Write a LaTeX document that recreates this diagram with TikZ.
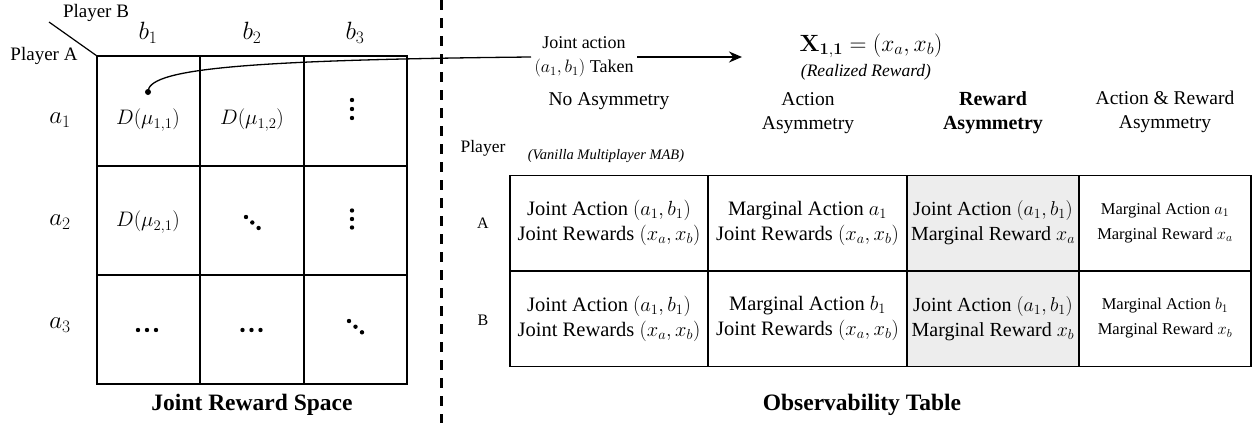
\documentclass[tikz,border=0pt]{standalone}
\usepackage{fix-cm}
\usepackage{amsmath}
\usepackage[no-math]{fontspec}
\setmainfont{Liberation Serif}
\usetikzlibrary{positioning,chains,arrows.meta}
\definecolor{shade}{RGB}{237,237,237}
\tikzstyle{gridline} = [line width=1.5pt]
\tikzstyle{obs}      = [rectangle, draw, line width=1.5pt, outer sep=0pt, inner sep=0pt,
                        minimum height=95.5pt, align=center, font=\fontsize{20.5}{25}\selectfont]
\tikzstyle{arrow}    = [line width=1.5pt,-{Stealth[length=13pt,width=11pt]}]

\begin{document}
\begin{tikzpicture}[
			x=1pt,y=-1pt,
			lab/.style={font=\fontsize{25}{28}\selectfont},
			entry/.style={font=\fontsize{21}{24}\selectfont},
			player/.style={font=\fontsize{19}{22}\selectfont},
			head/.style={align=center,font=\fontsize{19.5}{24}\selectfont},
			small/.style={obs,font=\fontsize{16.5}{25}\selectfont},
			title/.style={font=\fontsize{23.5}{26}\selectfont\bfseries},
			dot/.style={circle,fill,inner sep=0pt,minimum size=6pt}
		]
		\useasboundingbox (0,0) rectangle (1257,423);

		% joint reward space
		\draw[gridline] (97,56) rectangle (407,384);
		\draw[gridline] (200,56) -- (200,384) (304,56) -- (304,384);
		\draw[gridline] (97,166) -- (407,166) (97,275) -- (407,275);
		\draw[line width=1.2pt] (49,22) -- (97,56);
		\node[player] (PB) at (96,13) {Player B};
		\node[player] (PA) at (44,56) {Player A};

		\node[lab] (B1) at (148,33) {$b_1$};
		\node[lab] (B2) at (252,33) {$b_2$};
		\node[lab] (B3) at (355,33) {$b_3$};
		\node[lab] (A1) at (60,120) {$a_1$};
		\node[lab] (A2) at (60,222) {$a_2$};
		\node[lab] (A3) at (60,325) {$a_3$};

		\node[entry] (M11) at (148,120) {$D(\mu_{1,1})$};
		\node[entry] (M12) at (252,120) {$D(\mu_{1,2})$};
		\node[entry] (M21) at (148,222) {$D(\mu_{2,1})$};
		% dots in the remaining cells
		\foreach \y in {100,109,118} \fill (352,\y) circle (2.2);
		\foreach \y in {210.5,219,227.5} \fill (352,\y) circle (2.2);
		\foreach \x/\y in {246/217,252.3/222.5,258.6/228} \fill (\x,\y) circle (2.2);
		\foreach \x/\y in {349/321,355.5/326.7,362/332.3} \fill (\x,\y) circle (2.2);
		\foreach \x in {138,147,156} \fill (\x,330) circle (2.2);
		\foreach \x in {242.5,251.5,260.5} \fill (\x,330) circle (2.2);
		\node[title] (JR) at (252,405) {Joint Reward Space};

		% action taken
		\node[dot] (S) at (148,92) {};
		\node[align=center,font=\fontsize{18}{24}\selectfont] (L) at (584,57) {Joint action\\$(a_1,b_1)$ Taken};
		\draw[line width=1.3pt] (S.center) .. controls (148,70) and (230,60) .. (L.west);
		\coordinate (T) at (742,57);
		\draw[arrow] (L.east) -- (T);
		\node[font=\fontsize{23.5}{26}\selectfont] (X) at (871,46) {$\mathbf{X_{1,1}} = (x_a, x_b)$};
		\node[font=\fontsize{17.5}{20}\selectfont\itshape] (R) at (866,72) {(Realized Reward)};

		\draw[line width=3pt,dash pattern=on 10pt off 8pt] (441,0) -- (441,423);

		% observability table
		\node[head] (H1) at (609,101) {No Asymmetry};
		\node[font=\fontsize{14.5}{17}\selectfont\itshape] (V) at (606,156) {(Vanilla Multiplayer MAB)};
		\node[head] (H2) at (808,113) {Action\\Asymmetry};
		\node[head,font=\fontsize{20}{24}\selectfont\bfseries] (H3) at (993,113) {Reward\\Asymmetry};
		\node[head] (H4) at (1165,112) {Action \& Reward\\Asymmetry};
		\node[player,font=\fontsize{17.5}{20}\selectfont] (P) at (483,148) {Player};
		\node[font=\fontsize{16}{18}\selectfont] (RA) at (483,223) {A};
		\node[font=\fontsize{16}{18}\selectfont] (RB) at (483,320) {B};

		\begin{scope}[start chain=ra going right,node distance=0pt]
			\node[obs,on chain=ra,minimum width=198pt] (CA1) at (609,223) {Joint Action $(a_1,b_1)$\\Joint Rewards $(x_a,x_b)$};
			\node[obs,on chain=ra,minimum width=199pt] (CA2) {Marginal Action $a_1$\\Joint Rewards $(x_a,x_b)$};
			\node[obs,on chain=ra,minimum width=172pt,fill=shade,font=\fontsize{20}{25}\selectfont] (CA3) {Joint Action $(a_1,b_1)$\\Marginal Reward $x_a$};
			\node[small,on chain=ra,minimum width=172pt] (CA4) {Marginal Action $a_1$\\Marginal Reward $x_a$};
		\end{scope}
		\begin{scope}[start chain=rb going right,node distance=0pt]
			\node[obs,on chain=rb,minimum width=198pt] (CB1) at (609,318.5) {Joint Action $(a_1,b_1)$\\Joint Rewards $(x_a,x_b)$};
			\node[obs,on chain=rb,minimum width=199pt] (CB2) {Marginal Action $b_1$\\Joint Rewards $(x_a,x_b)$};
			\node[obs,on chain=rb,minimum width=172pt,fill=shade,font=\fontsize{20}{25}\selectfont] (CB3) {Joint Action $(a_1,b_1)$\\Marginal Reward $x_b$};
			\node[small,on chain=rb,minimum width=172pt] (CB4) {Marginal Action $b_1$\\Marginal Reward $x_b$};
		\end{scope}
		\node[title] (OT) at (862,405) {Observability Table};
	\end{tikzpicture}
\end{document}
